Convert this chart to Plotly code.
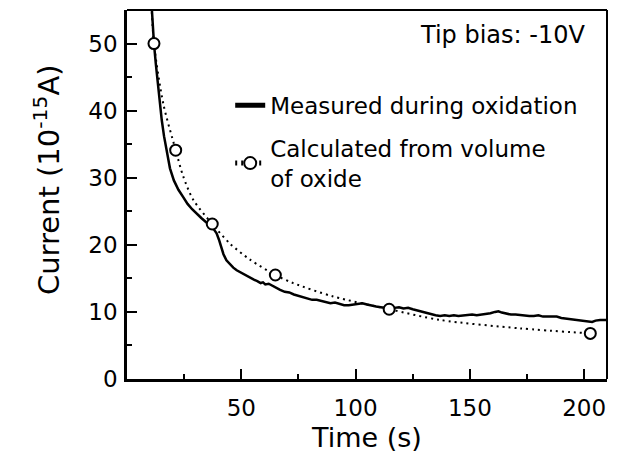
import plotly.graph_objects as go

# ---- data ----
meas_t = [10.8, 11.4, 11.8, 12.6, 13.5, 14.4, 15.2, 16.2, 17.3, 18.8, 20.5, 22.5, 24.6, 26.5,
          28.5, 30.5, 32.5, 34.5, 36.5, 38.0, 39.2, 40.2, 41.2, 42.2, 43.5, 45.0, 46.5, 48.0,
          49.5, 51.0, 52.5, 54.0, 55.5, 57.0, 58.5, 59.5, 60.5, 62.0, 63.5, 65.0, 67.0, 69.0,
          71.0, 73.0, 75.0, 77.0, 79.0, 81.0, 83.0, 85.0, 87.0, 89.0, 91.0, 93.0, 95.0, 97.0,
          99.0, 101.0, 103.0, 105.0, 107.0, 109.0, 111.0, 113.0, 115.0, 117.0, 119.0, 121.0,
          123.0, 125.0, 127.0, 129.0, 131.0, 133.0, 135.0, 137.0, 139.0, 141.0, 143.0, 145.0,
          147.0, 149.0, 151.0, 153.0, 155.0, 157.0, 159.0, 161.0, 162.5, 164.0, 166.0, 168.0,
          170.0, 172.0, 174.0, 176.0, 178.0, 180.0, 182.0, 184.0, 186.0, 188.0, 190.0, 192.0,
          194.0, 196.0, 198.0, 200.0, 202.0, 203.5, 205.0, 207.0, 210.0]
meas_I = [55.5, 52.0, 50.0, 47.0, 43.8, 41.0, 38.6, 36.2, 34.2, 31.4, 29.6, 28.2, 27.1, 26.1,
          25.3, 24.6, 24.0, 23.4, 22.9, 22.3, 21.7, 20.8, 19.6, 18.6, 17.7, 17.1, 16.6, 16.2,
          15.9, 15.6, 15.3, 15.1, 14.8, 14.6, 14.3, 14.4, 14.1, 14.2, 13.9, 13.6, 13.3, 13.0,
          12.9, 12.6, 12.4, 12.2, 12.0, 11.8, 11.8, 11.6, 11.5, 11.3, 11.4, 11.2, 11.0, 11.0,
          11.1, 11.2, 11.3, 11.1, 10.9, 10.8, 10.7, 10.6, 10.5, 10.6, 10.7, 10.5,
          10.6, 10.4, 10.2, 10.0, 9.8, 9.6, 9.5, 9.4, 9.5, 9.4, 9.5, 9.4,
          9.5, 9.5, 9.6, 9.5, 9.6, 9.6, 9.8, 10.0, 10.1, 9.9, 9.7, 9.6,
          9.6, 9.5, 9.5, 9.4, 9.4, 9.5, 9.3, 9.3, 9.4, 9.3, 9.1, 9.0,
          9.0, 8.9, 8.8, 8.7, 8.6, 8.5, 8.7, 8.8, 8.8]

# calculated points (open circles)
circ_t = [11.8, 21.3, 37.3, 64.9, 114.7, 202.7]
circ_I = [50.0, 34.1, 23.1, 15.5, 10.4, 6.8]
# extra points
guide_t = [10.6, 15.9, 24.6, 29.0, 45.0, 53.8, 72.7, 90.2, 137.0, 171.8]
guide_I = [56.5, 41.0, 30.2, 26.7, 20.2, 17.8, 14.3, 12.3, 8.8, 7.55]

x_ticks = [50, 100, 150, 200]
y_ticks = [0, 10, 20, 30, 40, 50]

# combine calculated curve points (circles get a visible marker)
pts = sorted([(t, i, True) for t, i in zip(circ_t, circ_I)] +
             [(t, i, False) for t, i in zip(guide_t, guide_I)])
calc_t = [p[0] for p in pts]
calc_I = [p[1] for p in pts]
msize = [11 if p[2] else 0 for p in pts]
mlw = [2 if p[2] else 0 for p in pts]

FONT = "DejaVu Sans"
fig = go.Figure()
fig.add_trace(go.Scatter(
    x=meas_t, y=meas_I, mode="lines", name="Measured during oxidation",
    line=dict(color="black", width=2.5), legendgroup="a"))
fig.add_trace(go.Scatter(
    x=calc_t, y=calc_I, mode="lines+markers",
    name="Calculated from volume<br>of oxide",
    line=dict(color="black", width=2, dash="2px,4px", shape="spline", smoothing=0.8),
    marker=dict(symbol="circle", size=msize, color="white", opacity=1,
                line=dict(color="#000000", width=mlw)),
    legendgroup="b"))

# top & right frame (thinner)
fig.add_shape(type="line", xref="paper", yref="paper", x0=0, x1=1, y0=1, y1=1,
              line=dict(color="black", width=2))
fig.add_shape(type="line", xref="paper", yref="paper", x0=1, x1=1, y0=0, y1=1,
              line=dict(color="black", width=2))

fig.add_annotation(text="Tip bias: -10V", xref="paper", yref="paper",
                   x=0.958, y=0.932, xanchor="right", yanchor="middle",
                   showarrow=False, font=dict(family=FONT, size=24, color="black"))
fig.add_annotation(text="Current (10<sup>-15</sup>A)", xref="paper", yref="paper",
                   x=-0.168, y=0.54, xanchor="center", yanchor="middle", textangle=-90,
                   showarrow=False, font=dict(family=FONT, size=29, color="black"))

fig.update_layout(
    width=618, height=463,
    margin=dict(l=127, r=11, t=10, b=84),
    paper_bgcolor="white", plot_bgcolor="white",
    font=dict(family=FONT, color="black"),
    showlegend=True,
    legend=dict(x=0.215, y=0.80, xanchor="left", yanchor="top",
                bgcolor="rgba(0,0,0,0)", font=dict(family=FONT, size=23),
                itemsizing="constant", traceorder="grouped", tracegroupgap=10),
    xaxis=dict(range=[0, 210], tickvals=x_ticks, ticks="inside", ticklen=10, tickwidth=2,
               tickcolor="black", showline=True, linewidth=2.5, linecolor="black",
               showgrid=False, zeroline=False, tickfont=dict(size=23),
               ticklabelstandoff=7,
               minor=dict(ticks="inside", ticklen=5, tickwidth=2, tickcolor="black",
                          dtick=25, tick0=0, showgrid=False),
               title=dict(text="Time (s)", font=dict(size=27), standoff=8)),
    yaxis=dict(range=[0, 55], tickvals=y_ticks, ticks="inside", ticklen=10, tickwidth=2,
               tickcolor="black", showline=True, linewidth=2.5, linecolor="black",
               showgrid=False, zeroline=False, tickfont=dict(size=23),
               ticklabelstandoff=2,
               minor=dict(ticks="inside", ticklen=5, tickwidth=2, tickcolor="black",
                          dtick=5, tick0=0, showgrid=False)),
)

fig.write_html("out.html")
